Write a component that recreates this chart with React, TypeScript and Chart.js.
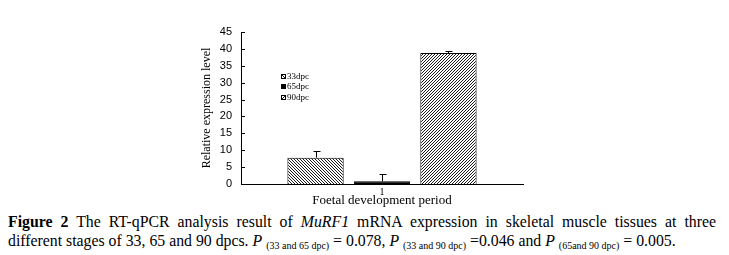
import React, { useEffect, useRef } from 'react';
import { Chart, registerables } from 'chart.js';

Chart.register(...registerables);

const categories = ['1'];
const seriesLabels = ['33dpc', '65dpc', '90dpc'];
const expression33 = [7.8];
const expression65 = [0.8];
const expression90 = [38.8];
const error33 = [2.1];
const error65 = [2.2];
const error90 = [0.65];
const yMin = 0;
const yMax = 45;
const yStep = 5;

const errors = [error33, error65, error90];

function makeHatch(ctx: CanvasRenderingContext2D, dir: 'back' | 'fwd' | 'solid') {
  if (dir === 'solid') return '#000';
  const n = 3;
  const c = document.createElement('canvas');
  c.width = n;
  c.height = n;
  const g = c.getContext('2d')!;
  g.fillStyle = '#fff';
  g.fillRect(0, 0, n, n);
  g.fillStyle = '#1a1a1a';
  for (let i = 0; i < n; i++) {
    const x = dir === 'back' ? i : n - 1 - i;
    g.fillRect(x, i, 1, 1);
  }
  return ctx.createPattern(c, 'repeat')!;
}

export default function App() {
  const canvasRef = useRef<HTMLCanvasElement | null>(null);

  useEffect(() => {
    const canvas = canvasRef.current!;
    const ctx = canvas.getContext('2d')!;
    const fills = [makeHatch(ctx, 'back'), makeHatch(ctx, 'solid'), makeHatch(ctx, 'fwd')];
    const values = [expression33, expression65, expression90];

    const errorBars = {
      id: 'errorBars',
      afterDatasetsDraw(chart: any) {
        const c = chart.ctx;
        const ys = chart.scales.y;
        c.save();
        c.strokeStyle = '#000';
        c.lineWidth = 1;
        chart.data.datasets.forEach((ds: any, di: number) => {
          const meta = chart.getDatasetMeta(di);
          meta.data.forEach((el: any, i: number) => {
            const v = ds.data[i];
            const e = errors[di][i];
            const yTop = Math.round(ys.getPixelForValue(v + e)) + 0.5;
            const x = Math.round(el.x) + 0.5;
            c.beginPath();
            c.moveTo(x, el.y);
            c.lineTo(x, yTop);
            c.moveTo(x - 3, yTop);
            c.lineTo(x + 4, yTop);
            c.stroke();
          });
        });
        c.restore();
      },
    };

    const innerTicks = {
      id: 'innerTicks',
      afterDraw(chart: any) {
        const c = chart.ctx;
        const ys = chart.scales.y;
        const left = chart.chartArea.left;
        c.save();
        c.strokeStyle = '#000';
        c.lineWidth = 1;
        ys.ticks.forEach((t: any) => {
          const y = Math.round(ys.getPixelForValue(t.value)) + 0.5;
          c.beginPath();
          c.moveTo(left, y);
          c.lineTo(left + 4, y);
          c.stroke();
        });
        c.restore();
      },
    };

    const customLegend = {
      id: 'customLegend',
      afterDraw(chart: any) {
        const c = chart.ctx;
        const x0 = chart.chartArea.left + 40;
        const y0 = chart.chartArea.top + 44;
        c.save();
        c.font = '9px "Liberation Serif"';
        c.textBaseline = 'middle';
        c.fillStyle = '#000';
        seriesLabels.forEach((lab, i) => {
          const y = y0 + i * 10.5;
          c.fillStyle = fills[i] as any;
          c.fillRect(x0, Math.round(y - 2.5), 5, 5);
          c.strokeStyle = '#000';
          c.lineWidth = 1;
          c.strokeRect(x0 + 0.5, Math.round(y - 2.5) + 0.5, 4, 4);
          c.fillStyle = '#000';
          c.fillText(lab, x0 + 6, y + 0.5);
        });
        c.restore();
      },
    };

    const chart = new Chart(canvas, {
      type: 'bar',
      data: {
        labels: categories,
        datasets: seriesLabels.map((lab, i) => ({
          label: lab,
          data: values[i],
          backgroundColor: fills[i] as any,
          borderColor: '#000',
          borderWidth: 1,
          categoryPercentage: 0.707,
          barPercentage: 0.847,
        })),
      },
      options: {
        responsive: false,
        animation: false,
        devicePixelRatio: 1,
        layout: { padding: { left: 190, right: 206, top: 32, bottom: 1 } },
        plugins: {
          legend: { display: false },
          tooltip: { enabled: false },
        },
        scales: {
          x: {
            type: 'category',
            offset: true,
            grid: { display: false, drawTicks: false },
            border: { display: true, color: '#000', width: 1 },
            ticks: {
              color: '#000',
              font: { family: '"Liberation Serif"', size: 10 },
              padding: 2,
            },
            title: {
              display: true,
              text: 'Foetal development period',
              color: '#000',
              font: { family: '"Liberation Serif"', size: 13 },
              padding: { top: 0, bottom: -1 },
            },
            afterFit: (s: any) => {
              s.height = 23;
            },
          },
          y: {
            min: yMin,
            max: yMax,
            ticks: {
              stepSize: yStep,
              color: '#000',
              font: { family: '"Liberation Sans"', size: 11 },
              padding: 9,
            },
            grid: { display: false, drawTicks: false },
            border: { display: true, color: '#000', width: 1 },
            title: {
              display: true,
              text: 'Relative expression level',
              color: '#000',
              font: { family: '"Liberation Serif"', size: 12 },
              padding: { top: 10, bottom: 0 },
            },
            afterFit: (s: any) => {
              s.width = 51;
            },
          },
        },
      },
      plugins: [errorBars, innerTicks, customLegend],
    });

    return () => chart.destroy();
  }, []);

  const sub = { fontSize: 10, verticalAlign: '-3px' } as React.CSSProperties;

  return (
    <div style={{ position: 'fixed', left: 0, top: 0, width: 729, height: 255, background: '#fff', overflow: 'hidden' }}>
      <canvas ref={canvasRef} width={729} height={208} style={{ position: 'absolute', left: 0, top: 0, width: 729, height: 208 }} />
      <div
        style={{
          position: 'absolute',
          left: 8,
          top: 212,
          width: 708,
          fontFamily: '"Liberation Serif", "Times New Roman", serif',
          fontSize: 15.8,
          lineHeight: '19px',
          color: '#000',
        }}
      >
        <div style={{ textAlign: 'justify', textAlignLast: 'justify', whiteSpace: 'nowrap' }}>
          <b>Figure 2</b> The RT-qPCR analysis result of <i>MuRF1</i> mRNA expression in skeletal muscle tissues at three
        </div>
        <div style={{ whiteSpace: 'nowrap' }}>
          different stages of 33, 65 and 90 dpcs. <i>P</i> <span style={sub}>(33 and 65 dpc)</span> = 0.078, <i>P</i>{' '}
          <span style={sub}>(33 and 90 dpc)</span> =0.046 and <i>P</i> <span style={sub}>(65and 90 dpc)</span> = 0.005.
        </div>
      </div>
    </div>
  );
}
